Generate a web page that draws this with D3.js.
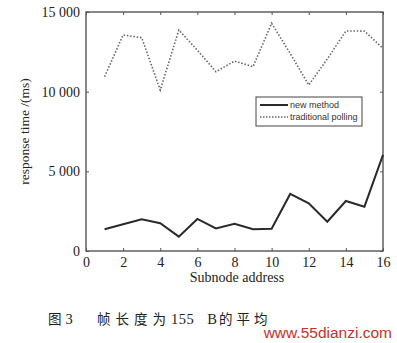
<!DOCTYPE html>
<html>
<head>
<meta charset="utf-8">
<script src="https://cdn.jsdelivr.net/npm/d3@7"></script>
<style>
  body { margin: 0; background: #fff; }
  svg { display: block; }
</style>
</head>
<body>
<div id="chart"></div>
<script>
// subnode addresses and response times (ms)
var nodes = [1, 2, 3, 4, 5, 6, 7, 8, 9, 10, 11, 12, 13, 14, 15, 16];
var newMethod = [1360, 1680, 1990, 1740, 900, 2010, 1420, 1710, 1360, 1400, 3580, 2990, 1840, 3140, 2780, 6030];
var polling = [10940, 13560, 13390, 10100, 13870, 12600, 11250, 11920, 11570, 14290, 12400, 10420, 12050, 13810, 13800, 12720];
var xTicks = [0, 2, 4, 6, 8, 10, 12, 14, 16];
var yTicks = [0, 5000, 10000, 15000];
var yTickLabels = ["0", "5 000", "10 000", "15 000"];
var seriesNames = ["new method", "traditional polling"];

var width = 397, height = 343;
var plotLeft = 86, plotRight = 383, plotTop = 12, plotBottom = 251;

var svg = d3.select("#chart")
    .append("svg")
    .attr("width", width)
    .attr("height", height);

var x = d3.scaleLinear().domain([0, 16]).range([plotLeft, plotRight]);
var y = d3.scaleLinear().domain([0, 15000]).range([plotBottom, plotTop]);

var axisColor = "#555";
var serif = "'Liberation Serif', 'DejaVu Serif', serif";
var cjk = "'Noto Sans CJK SC', sans-serif";

// box
svg.append("rect")
    .attr("x", plotLeft).attr("y", plotTop)
    .attr("width", plotRight - plotLeft).attr("height", plotBottom - plotTop)
    .attr("fill", "none")
    .attr("stroke", axisColor)
    .attr("stroke-width", 1.4);

// bottom axis
var gx = svg.append("g")
    .attr("transform", "translate(0," + plotBottom + ")")
    .call(d3.axisBottom(x).tickValues(xTicks).tickSize(-3).tickPadding(6));
// top ticks
var gxt = svg.append("g")
    .attr("transform", "translate(0," + plotTop + ")")
    .call(d3.axisTop(x).tickValues(xTicks).tickSize(-3).tickFormat(""));
// left axis
var gy = svg.append("g")
    .attr("transform", "translate(" + plotLeft + ",0)")
    .call(d3.axisLeft(y).tickValues(yTicks).tickSize(-3).tickPadding(6)
        .tickFormat(function (d, i) { return yTickLabels[i]; }));
// right ticks
var gyr = svg.append("g")
    .attr("transform", "translate(" + plotRight + ",0)")
    .call(d3.axisRight(y).tickValues(yTicks).tickSize(-3).tickFormat(""));

[gx, gxt, gy, gyr].forEach(function (g) {
    g.select(".domain").remove();
    g.selectAll("line").attr("stroke", axisColor);
    g.selectAll("text")
        .attr("fill", "#222")
        .style("font-family", serif)
        .style("font-size", "14px");
});

// lines
var line = d3.line()
    .x(function (d) { return x(d[0]); })
    .y(function (d) { return y(d[1]); });

svg.append("path")
    .datum(nodes.map(function (n, i) { return [n, polling[i]]; }))
    .attr("d", line)
    .attr("fill", "none")
    .attr("stroke", "#666")
    .attr("stroke-width", 1.6)
    .attr("stroke-dasharray", "1.5,1.8");

svg.append("path")
    .datum(nodes.map(function (n, i) { return [n, newMethod[i]]; }))
    .attr("d", line)
    .attr("fill", "none")
    .attr("stroke", "#2a2a2a")
    .attr("stroke-width", 2);

// legend
var lg = svg.append("g").attr("transform", "translate(256,97)");
lg.append("rect")
    .attr("width", 106).attr("height", 29)
    .attr("fill", "#fff")
    .attr("stroke", "#444")
    .attr("stroke-width", 1);
lg.append("line")
    .attr("x1", 4).attr("x2", 32).attr("y1", 8).attr("y2", 8)
    .attr("stroke", "#2a2a2a").attr("stroke-width", 2);
lg.append("line")
    .attr("x1", 4).attr("x2", 32).attr("y1", 20).attr("y2", 20)
    .attr("stroke", "#666").attr("stroke-width", 1.4)
    .attr("stroke-dasharray", "1.5,1.5");
lg.selectAll("text.leg")
    .data(seriesNames)
    .enter()
    .append("text")
    .attr("x", 34)
    .attr("y", function (d, i) { return 11 + i * 12; })
    .attr("fill", "#333")
    .style("font-family", "'Liberation Sans', Arial, sans-serif")
    .style("font-size", "9px")
    .text(function (d) { return d; });

// axis titles
svg.append("text")
    .attr("transform", "translate(29," + ((plotTop + plotBottom) / 2) + ") rotate(-90)")
    .attr("text-anchor", "middle")
    .attr("fill", "#222")
    .style("font-family", serif)
    .style("font-size", "13.5px")
    .text("response time /(ms)");

svg.append("text")
    .attr("x", 237).attr("y", 282)
    .attr("text-anchor", "middle")
    .attr("fill", "#222")
    .style("font-family", serif)
    .style("font-size", "14px")
    .text("Subnode address");

// caption
var cap = svg.append("text")
    .attr("x", 48).attr("y", 324)
    .attr("fill", "#222")
    .style("font-size", "13.5px");
cap.append("tspan").style("font-family", cjk).text("图");
cap.append("tspan").attr("dx", 4).style("font-family", serif).style("font-size", "14.5px").text("3");
cap.append("tspan").attr("x", 97).style("font-family", cjk).style("letter-spacing", "5px").text("帧长度为");
cap.append("tspan").style("font-family", serif).style("font-size", "14.5px").style("letter-spacing", "0.5px").text("155");
cap.append("tspan").attr("dx", 13).style("font-family", serif).style("font-size", "14.5px").text("B");
cap.append("tspan").attr("dx", 2).style("font-family", cjk).style("letter-spacing", "4px").text("的平均");

// watermark
svg.append("text")
    .attr("x", 392).attr("y", 338)
    .attr("text-anchor", "end")
    .attr("fill", "#c8302a")
    .style("font-family", "'Liberation Sans', Arial, sans-serif")
    .style("font-size", "15.5px")
    .text("www.55dianzi.com");
</script>
</body>
</html>
